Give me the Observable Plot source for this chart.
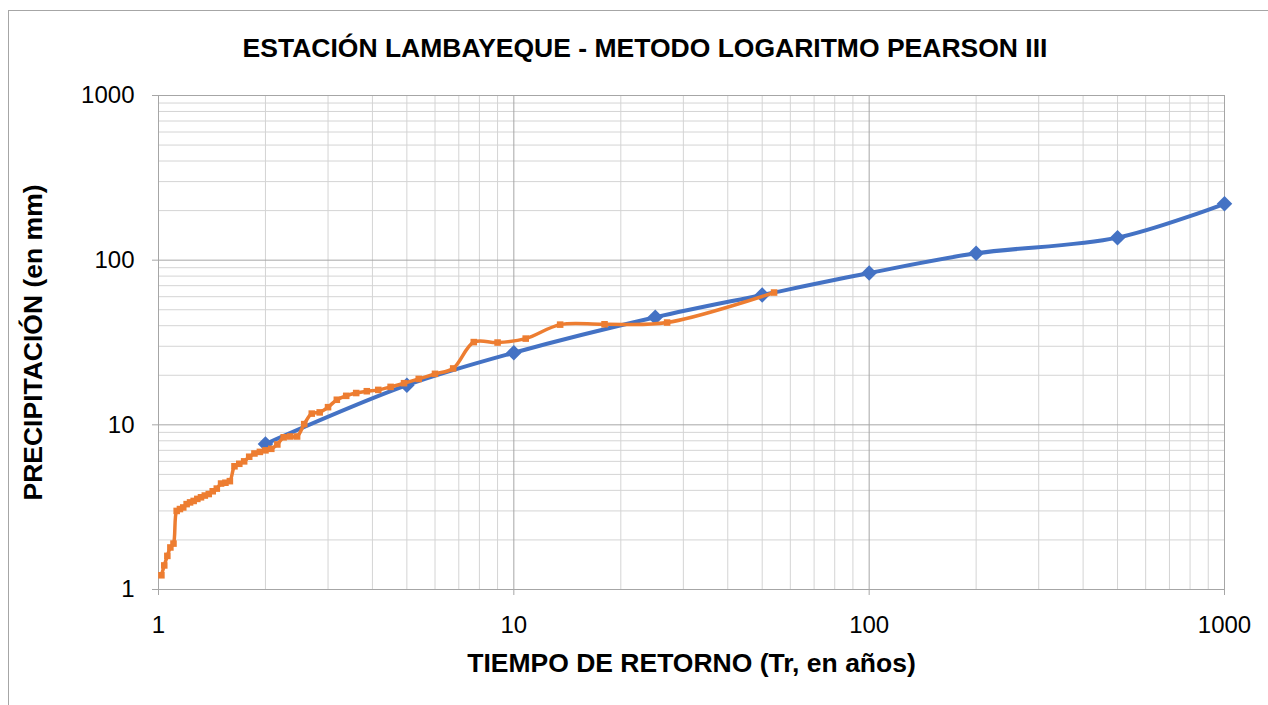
<!DOCTYPE html>
<html>
<head>
<meta charset="utf-8">
<script src="https://cdn.jsdelivr.net/npm/d3@7"></script>
<script src="https://cdn.jsdelivr.net/npm/@observablehq/plot@0.6"></script>
<style>
  html, body { margin: 0; padding: 0; background: #fff; overflow: hidden; }
  #wrap { position: relative; width: 1268px; height: 705px; }
  #border { position: absolute; left: 8px; top: 10px; width: 1400px; height: 800px;
            border-left: 1px solid #a6a6a6; border-top: 1px solid #a6a6a6; }
  #chart { position: absolute; left: 0; top: 0; }
  svg { font-family: "Liberation Sans", Arial, sans-serif; }
</style>
</head>
<body>
<div id="wrap"><div id="border"></div><div id="chart"></div></div>
<script>
const title = "ESTACIÓN LAMBAYEQUE - METODO LOGARITMO PEARSON III";
const xTitle = "TIEMPO DE RETORNO (Tr, en años)";
const yTitle = "PRECIPITACIÓN (en mm)";

// Log-Pearson III fitted series (blue)
const trModel = [2, 5, 10, 25, 50, 100, 200, 500, 1000];
const pModel = [7.65, 17.4, 27.4, 45, 61.5, 83.5, 110, 137, 220];

// Observed series (orange)
const trObs = [1.019, 1.038, 1.059, 1.08, 1.102, 1.125, 1.149, 1.174, 1.2, 1.227,
  1.256, 1.286, 1.317, 1.35, 1.385, 1.421, 1.459, 1.5, 1.543, 1.588,
  1.636, 1.688, 1.742, 1.8, 1.862, 1.929, 2.0, 2.077, 2.16, 2.25,
  2.348, 2.455, 2.571, 2.7, 2.842, 3.0, 3.176, 3.375, 3.6, 3.857,
  4.154, 4.5, 4.909, 5.4, 6.0, 6.75, 7.714, 9.0, 10.8, 13.5, 18, 27, 54];
const pObs = [1.22, 1.40, 1.60, 1.80, 1.90, 3.0, 3.08, 3.15, 3.3, 3.38,
  3.45, 3.55, 3.63, 3.72, 3.8, 3.95, 4.1, 4.4, 4.45, 4.55,
  5.6, 5.8, 6.0, 6.4, 6.7, 6.85, 7.0, 7.15, 7.6, 8.4,
  8.5, 8.5, 10.1, 11.7, 11.9, 12.8, 14.2, 15.0, 15.6, 16.0,
  16.3, 17.0, 17.9, 19.0, 20.4, 22.0, 31.8, 31.6, 33.4, 40.6, 40.8, 41.8, 63.6];

const majorTicks = [1, 10, 100, 1000];
const minorSteps = [2, 3, 4, 5, 6, 7, 8, 9];
const minorTicks = [1, 10, 100].flatMap(d => minorSteps.map(k => k * d));

const model = trModel.map((t, i) => ({t, p: pModel[i]}));
const obs = trObs.map((t, i) => ({t, p: pObs[i]}));

const blue = "#4472C4", orange = "#ED7D31";

const chart = Plot.plot({
  width: 1268,
  height: 705,
  marginLeft: 158,
  marginRight: 44,
  marginTop: 95,
  marginBottom: 116,
  style: {fontFamily: '"Liberation Sans", Arial, sans-serif', background: "transparent"},
  x: {type: "log", domain: [1, 1000]},
  y: {type: "log", domain: [1, 1000]},
  marks: [
    Plot.gridX(minorTicks, {stroke: "#d4d4d4", strokeOpacity: 1}),
    Plot.gridY(minorTicks, {stroke: "#d4d4d4", strokeOpacity: 1}),
    Plot.gridX(majorTicks, {stroke: "#a6a6a6", strokeOpacity: 1}),
    Plot.gridY(majorTicks, {stroke: "#a6a6a6", strokeOpacity: 1}),
    Plot.ruleY([1], {stroke: "#a6a6a6"}),
    Plot.ruleX([1], {stroke: "#a6a6a6"}),
    Plot.axisX(majorTicks, {tickFormat: d => String(d), tickSize: 6, tickPadding: 20,
      fontSize: 24, stroke: "#a6a6a6", color: "#000", label: null}),
    Plot.axisY(majorTicks, {tickFormat: d => String(d), tickSize: 6, tickPadding: 18,
      fontSize: 24, stroke: "#a6a6a6", color: "#000", label: null}),
    Plot.line(model, {x: "t", y: "p", stroke: blue, strokeWidth: 4, curve: "catmull-rom"}),
    Plot.dot(model, {x: "t", y: "p", symbol: "diamond2", r: 7, fill: blue, stroke: "none"}),
    Plot.line(obs, {x: "t", y: "p", stroke: orange, strokeWidth: 3.5, curve: "catmull-rom"}),
    Plot.dot(obs, {x: "t", y: "p", symbol: "square", r: 3.7, fill: orange, stroke: "none"}),
    Plot.text([title], {frameAnchor: "top", lineAnchor: "middle", dx: -46.5, dy: -46.5,
      fontSize: 26.5, fontWeight: "bold", fill: "#000"}),
    Plot.text([xTitle], {frameAnchor: "bottom", lineAnchor: "middle", dx: 0, dy: 74,
      fontSize: 26.5, fontWeight: "bold", fill: "#000"}),
    Plot.text([yTitle], {frameAnchor: "left", textAnchor: "middle", lineAnchor: "middle",
      rotate: -90, dx: -125, dy: 0, fontSize: 26.5, fontWeight: "bold", fill: "#000"})
  ]
});
document.getElementById("chart").appendChild(chart);
</script>
</body>
</html>
